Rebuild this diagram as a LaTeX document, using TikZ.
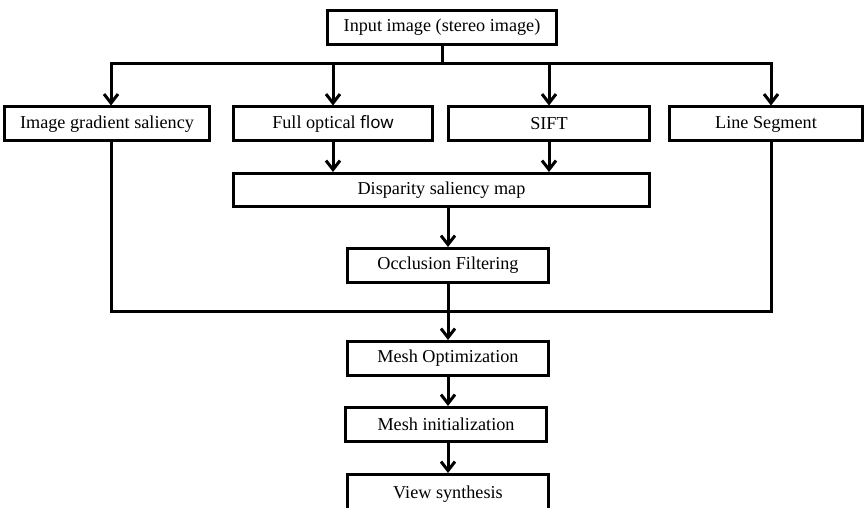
\documentclass[tikz,border=0pt]{standalone}
\usepackage{fontspec}
\setmainfont{Liberation Serif}
\newfontfamily\flowfont{Noto Sans}
\usetikzlibrary{arrows.meta}
\begin{document}
\begin{tikzpicture}[x=1pt,y=-1pt,
  box/.style={draw=black,line width=3pt,fill=white,inner sep=0pt,minimum height=34pt,
    font=\fontsize{18.2pt}{20pt}\selectfont},
  conn/.style={line width=3pt},
  arr/.style={line width=3pt,-{Straight Barb[length=9pt,width=14pt,line width=3pt]}}]
\clip (0,0) rectangle (865,508);
\useasboundingbox (0,0) rectangle (865,508);
\node[box,minimum width=229pt] (in) at (442,27.5) {Input image (stereo image)};
\node[box,minimum width=205pt] (igs) at (107,124) {Image gradient saliency};
\node[box,minimum width=199pt] (fof) at (333,124) {Full optical {\flowfont\fontsize{17pt}{20pt}\selectfont flow}};
\node[box,minimum width=201pt] (sift) at (549,124) {SIFT};
\node[box,minimum width=193pt] (ls) at (766,124) {Line Segment};
\node[box,minimum width=416pt,minimum height=33pt] (disp) at (441.5,190) {Disparity saliency map};
\node[box,minimum width=201pt] (occ) at (448,265.5) {Occlusion Filtering};
\node[box,minimum width=201pt] (mo) at (448,358.5) {Mesh Optimization};
\node[box,minimum width=201pt] (mi) at (446,424.5) {Mesh initialization};
\node[box,minimum width=201pt,minimum height=40pt] (vs) at (448,494.5) {View synthesis};
\coordinate (bL) at (111,64);
\coordinate (bR) at (771,64);
\coordinate (jL) at (111,311);
\coordinate (jR) at (771,311);
\draw[conn] (in.south) -- (in.south |- bL);
\draw[conn,line cap=rect] (bL) -- (bR);
\draw[arr] (bL) -- (bL |- igs.north);
\draw[arr] (fof.north |- bL) -- (fof.north);
\draw[arr] (sift.north |- bL) -- (sift.north);
\draw[arr] (bR) -- (bR |- ls.north);
\draw[arr] (fof.south) -- (fof.south |- disp.north);
\draw[arr] (sift.south) -- (sift.south |- disp.north);
\draw[arr] (occ.north |- disp.south) -- (occ.north);
\draw[conn,line join=miter] (bL |- igs.south) -- (jL) -- (jR) -- (bR |- ls.south);
\draw[arr] (occ.south) -- (mo.north);
\draw[arr] (mo.south) -- (mo.south |- mi.north);
\draw[arr] (vs.north |- mi.south) -- (vs.north);
\end{tikzpicture}
\end{document}
